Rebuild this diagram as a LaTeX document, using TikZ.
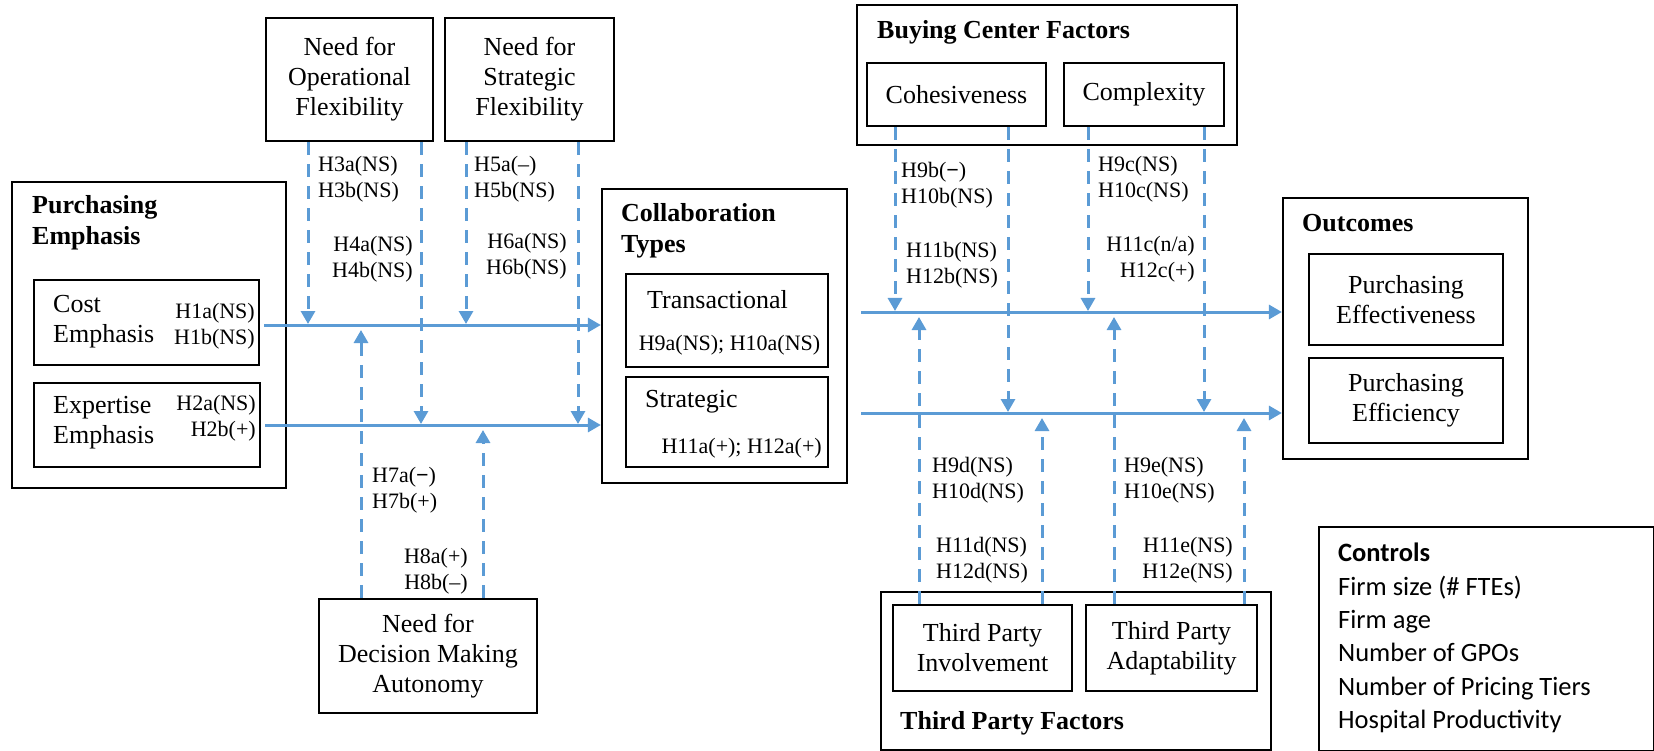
\documentclass[tikz,border=0pt]{standalone}
\usepackage{fontspec}
\setmainfont{Liberation Serif}
\newfontfamily\ctrlfont{Carlito}
\usetikzlibrary{arrows.meta}
\definecolor{linkblue}{HTML}{5B9BD5}

\begin{document}
\begin{tikzpicture}[x=1pt, y=-1pt,
  box/.style={draw, line width=2.2pt, inner sep=0pt},
  txt/.style={inner sep=0pt, align=center, font=\fontsize{26}{30}\selectfont},
  head/.style={inner sep=0pt, align=left, anchor=west, font=\fontsize{26}{31}\selectfont\bfseries},
  hyp/.style={inner sep=0pt, font=\fontsize{22}{26}\selectfont},
  flow/.style={linkblue, line width=3pt, -{Triangle[length=13pt, width=14pt]}},
  mod/.style={flow, dash pattern=on 13pt off 9pt}]

\useasboundingbox (0,0) rectangle (1654,751);

% Outer groups
\node[box, minimum width=274, minimum height=306] (pemph) at (149,335) {};
\node[box, minimum width=245, minimum height=294] (collab) at (724.5,336) {};
\node[box, minimum width=380, minimum height=140] (bcf) at (1047,75) {};
\node[box, minimum width=245, minimum height=261] (outc) at (1405.5,328.5) {};
\node[box, minimum width=390, minimum height=158] (tpf) at (1076,671) {};
\node[box, anchor=north west, minimum width=335, minimum height=224] (controls) at (1318,526) {};

\node[head] (pemphtxt) at (32,223) {Purchasing\\Emphasis};
\node[head] (collabtxt) at (621,231) {Collaboration\\Types};
\node[head] (bcftxt) at (877,32) {Buying Center Factors};
\node[head] (outctxt) at (1302,223) {Outcomes};
\node[head] (tpftxt) at (900,723) {Third Party Factors};

% Inner boxes
\node[box, minimum width=225, minimum height=85] (cost) at (146.5,322.5) {};
\node[txt, align=left, anchor=west] (costtxt) at (53,322) {Cost\\Emphasis};
\node[box, minimum width=226, minimum height=84] (expert) at (147,425) {};
\node[txt, align=left, anchor=west] (experttxt) at (53,423) {Expertise\\Emphasis};

\node[box, minimum width=202, minimum height=93] (trans) at (727,320.5) {};
\node[txt, anchor=west] (transtxt) at (647,300) {Transactional};
\node[box, minimum width=202, minimum height=90] (strat) at (727,422) {};
\node[txt, anchor=west] (strattxt) at (645,402) {Strategic};

\node[box, txt, minimum width=167, minimum height=123] (opflex) at (349.5,79.5) {Need for\\Operational\\Flexibility};
\node[box, txt, minimum width=169, minimum height=123] (stratflex) at (529.5,79.5) {Need for\\Strategic\\Flexibility};
\node[box, txt, minimum width=218, minimum height=114] (autonomy) at (428,656) {Need for\\Decision Making\\Autonomy};

\node[box, txt, minimum width=179, minimum height=63] (cohes) at (956.5,94.5) {Cohesiveness};
\node[box, txt, minimum width=160, minimum height=63] (cmplx) at (1144,94.5) {Complexity};

\node[box, txt, minimum width=194, minimum height=91] (effect) at (1406,299.5) {Purchasing\\Effectiveness};
\node[box, txt, minimum width=194, minimum height=85] (effic) at (1406,400.5) {Purchasing\\Efficiency};

\node[box, txt, minimum width=179, minimum height=86] (tpinv) at (982.5,648) {Third Party\\Involvement};
\node[box, txt, minimum width=171, minimum height=86] (tpadapt) at (1171.5,648) {Third Party\\Adaptability};

\node[inner sep=0pt, align=left, anchor=west, font=\ctrlfont\fontsize{26.5}{33.4}\selectfont] (ctrltxt) at (1338,638)
  {\textbf{Controls}\\Firm size (\# FTEs)\\Firm age\\Number of GPOs\\Number of Pricing Tiers\\Hospital Productivity};

% Lanes of the main paths
\coordinate (laneA) at (0,325);
\coordinate (laneB) at (0,425);
\coordinate (laneC) at (0,312);
\coordinate (laneD) at (0,413);

\draw[flow, shorten <=4pt] (cost.east |- laneA) -- (collab.west |- laneA);
\draw[flow, shorten <=4pt] (expert.east |- laneB) -- (collab.west |- laneB);
\draw[flow, shorten <=13pt] (collab.east |- laneC) -- (outc.west |- laneC);
\draw[flow, shorten <=13pt] (collab.east |- laneD) -- (outc.west |- laneD);

% Moderators from above
\foreach \x/\src/\lane in {308/opflex/laneA, 421/opflex/laneB, 466/stratflex/laneA, 578/stratflex/laneB,
                          895/cohes/laneC, 1008/cohes/laneD, 1088/cmplx/laneC, 1204/cmplx/laneD}
  \draw[mod, shorten >=1pt] (\x,0 |- \src.south) -- (\x,0 |- \lane);

% Moderators from below
\foreach \x/\src/\lane in {361/autonomy/laneA, 483/autonomy/laneB, 919/tpinv/laneC, 1042/tpinv/laneD,
                          1114/tpadapt/laneC, 1244/tpadapt/laneD}
  \draw[mod, shorten >=5pt] (\x,0 |- \src.north) -- (\x,0 |- \lane);

% Hypotheses
\node[hyp, align=right, anchor=east] (h1) at (255,326) {H1a(NS)\\H1b(NS)};
\node[hyp, align=right, anchor=east] (h2) at (256,418.5) {H2a(NS)\\H2b(+)};
\node[hyp, align=left, anchor=west] (h3) at (318,179) {H3a(NS)\\H3b(NS)};
\node[hyp, align=right, anchor=east] (h4) at (413,259) {H4a(NS)\\H4b(NS)};
\node[hyp, align=left, anchor=west] (h5) at (474,179) {H5a(–)\\H5b(NS)};
\node[hyp, align=right, anchor=east] (h6) at (567,256.5) {H6a(NS)\\H6b(NS)};
\node[hyp, align=left, anchor=west] (h7) at (372,490) {H7a(\textbf{−})\\H7b(+)};
\node[hyp, align=right, anchor=east] (h8) at (468,571.5) {H8a(+)\\H8b(–)};
\node[hyp] (h9a) at (729.5,345) {H9a(NS); H10a(NS)};
\node[hyp, anchor=east] (h11a) at (822,448) {H11a(+); H12a(+)};
\node[hyp, align=left, anchor=west] (h9b) at (901,185.5) {H9b(\textbf{−})\\H10b(NS)};
\node[hyp, align=left, anchor=west] (h11b) at (906,265) {H11b(NS)\\H12b(NS)};
\node[hyp, align=left, anchor=west] (h9c) at (1098,179) {H9c(NS)\\H10c(NS)};
\node[hyp, align=right, anchor=east] (h11c) at (1195,259.5) {H11c(n/a)\\H12c(+)};
\node[hyp, align=left, anchor=west] (h9d) at (932,480) {H9d(NS)\\H10d(NS)};
\node[hyp, align=left, anchor=west] (h11d) at (936,560) {H11d(NS)\\H12d(NS)};
\node[hyp, align=left, anchor=west] (h9e) at (1124,480) {H9e(NS)\\H10e(NS)};
\node[hyp, align=right, anchor=east] (h11e) at (1233,560) {H11e(NS)\\H12e(NS)};

\end{tikzpicture}
\end{document}
